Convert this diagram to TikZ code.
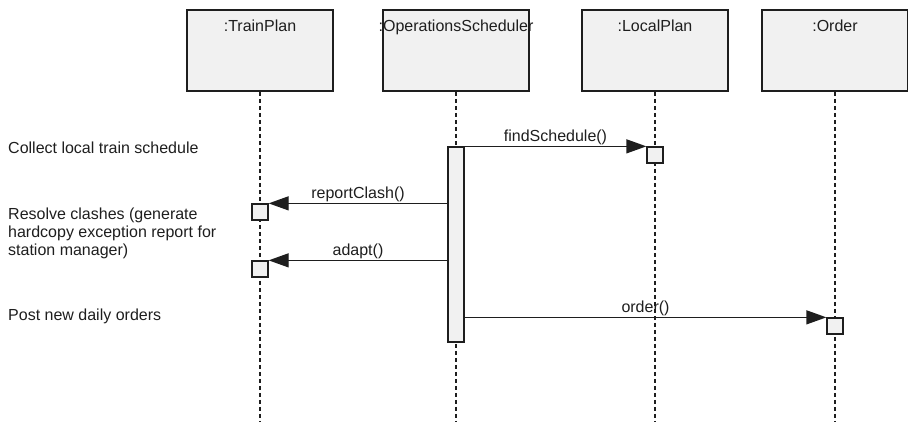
\documentclass[tikz,border=0pt]{standalone}
\usepackage{fontspec}
\setmainfont{Liberation Sans}
\usetikzlibrary{arrows.meta}
\definecolor{boxfill}{HTML}{F1F1F1}
\definecolor{ink}{HTML}{1E1E1E}
\begin{document}
\begin{tikzpicture}[x=1bp,y=-1bp,
  font=\fontsize{16bp}{18bp}\selectfont,
  objbox/.style={draw=ink,line width=1.8bp,fill=boxfill,minimum width=146bp,minimum height=81bp,inner sep=0pt},
  objname/.style={anchor=base,text=ink,inner sep=0pt},
  lifeline/.style={draw=ink,line width=1.3bp,dash pattern=on 4bp off 3bp},
  actbox/.style={draw=ink,line width=1.3bp,fill=boxfill,minimum width=16bp,inner sep=0pt},
  msg/.style={draw=ink,line width=1.3bp,-{Triangle[length=20bp,width=14bp]}},
  msglabel/.style={anchor=base,text=ink,inner sep=0pt},
  note/.style={anchor=base west,text=ink,inner sep=0pt,align=left}]
\useasboundingbox (0,0) rectangle (908,422);
% object boxes
\node[objbox] (tp) at (260,50.5) {};
\node[objbox] (os) at (456,50.5) {};
\node[objbox] (lp) at (655,50.5) {};
\node[objbox] (od) at (835,50.5) {};
\node[objname] (tpn) at (260,31) {:TrainPlan};
\node[objname] (osn) at (456,31) {:OperationsScheduler};
\node[objname] (lpn) at (655,31) {:LocalPlan};
\node[objname] (odn) at (835,31) {:Order};
% lifeline ends
\coordinate (tpe) at (260,422);
\coordinate (ose) at (456,422);
\coordinate (lpe) at (655,422);
\coordinate (ode) at (835,422);
\draw[lifeline] (tp.south) -- (tpe);
\draw[lifeline] (os.south) -- (ose);
\draw[lifeline] (lp.south) -- (lpe);
\draw[lifeline] (od.south) -- (ode);
% activations
\node[actbox,minimum height=195bp] (osa) at (456,244.5) {};
\node[actbox,minimum height=16bp] (lpa) at (655,155) {};
\node[actbox,minimum height=16bp] (tpa1) at (260,212) {};
\node[actbox,minimum height=16bp] (tpa2) at (260,269) {};
\node[actbox,minimum height=16bp] (oda) at (835,326) {};
% messages
\draw[msg] (osa.east |- lpa.north west) -- (lpa.north west)
  node[msglabel,midway,yshift=5bp] (m1) {findSchedule()};
\draw[msg] (osa.west |- tpa1.north east) -- (tpa1.north east)
  node[msglabel,midway,yshift=5bp] (m2) {reportClash()};
\draw[msg] (osa.west |- tpa2.north east) -- (tpa2.north east)
  node[msglabel,midway,yshift=5bp] (m3) {adapt()};
\draw[msg] (osa.east |- oda.north west) -- (oda.north west)
  node[msglabel,midway,yshift=5bp] (m4) {order()};
% notes
\node[note] (n1) at (8,153) {Collect local train schedule};
\node[note] (n2) at (8,255) {Resolve clashes (generate\\hardcopy exception report for\\station manager)};
\node[note] (n3) at (8,320) {Post new daily orders};
\end{tikzpicture}
\end{document}
